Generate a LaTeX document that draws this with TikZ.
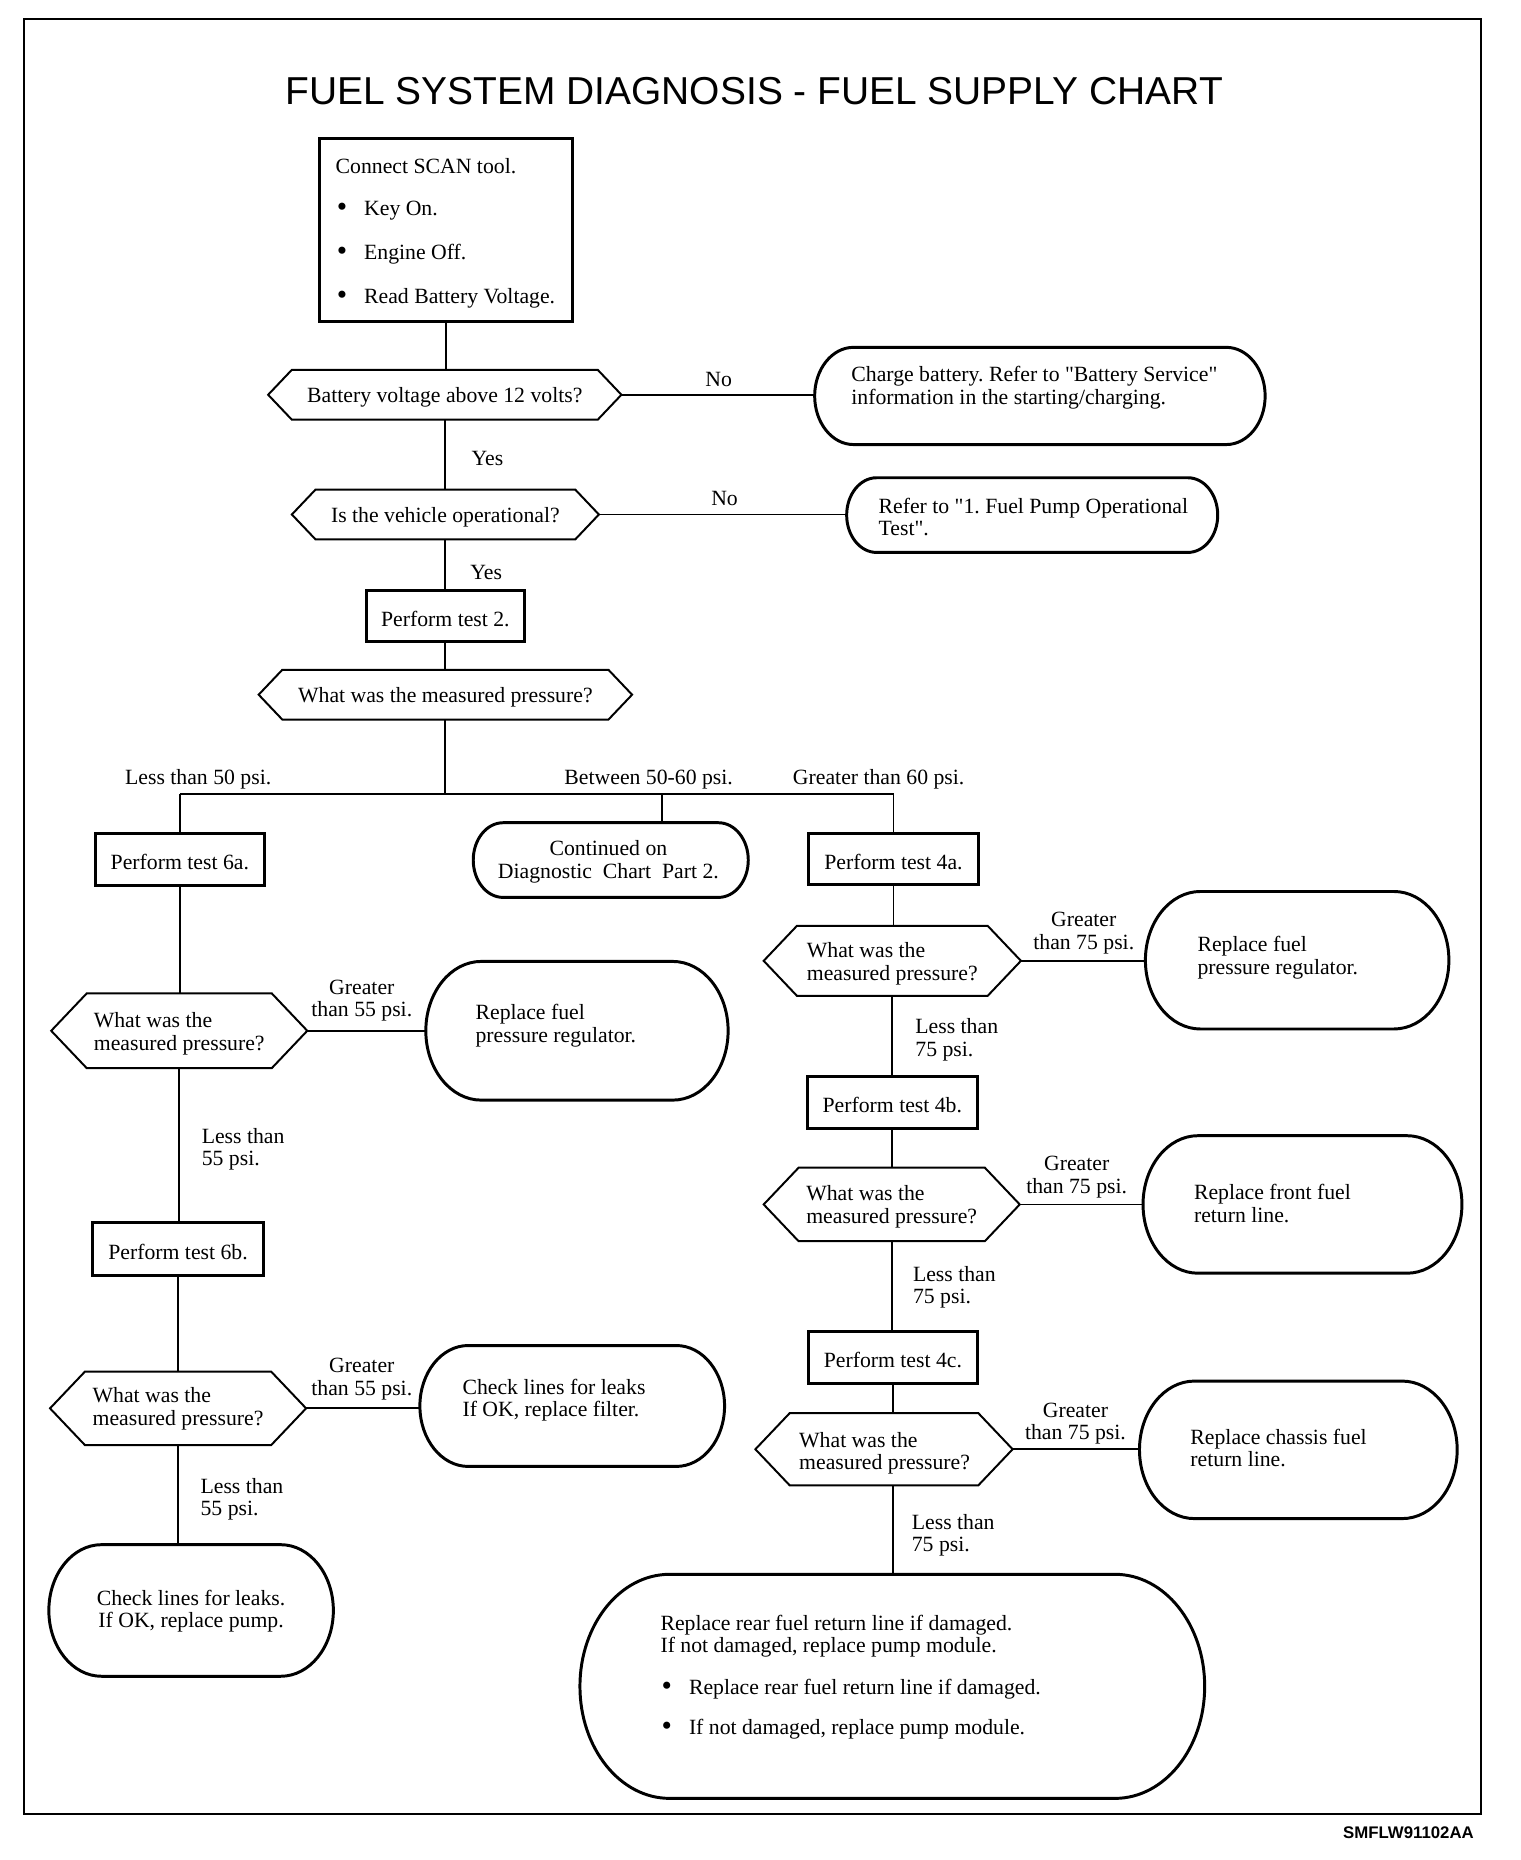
\documentclass[tikz,border=0pt]{standalone}
\usepackage{fontspec}
\setmainfont{Liberation Serif}
\newfontfamily\titlefont{Liberation Sans}
\usetikzlibrary{calc}
\frenchspacing
\newcommand\bul{\hbox to 13.8pt{\raisebox{-0.6pt}{\fontsize{15}{15}\selectfont\textbullet}\hss}}
\newcommand\qq{\textquotedbl}
\newcommand\hexshape[1]{%
  \draw[hexline] let \p1=(#1.north east), \p2=(#1.south west), \n1={0.95*(\y1-\y2)/2} in
   (#1.west) -- (\x2+\n1,\y1) -- (\x1-\n1,\y1) -- (#1.east) -- (\x1-\n1,\y2) -- (\x2+\n1,\y2) -- cycle;}
\newcommand\stadshape[1]{%
  \draw[stadline] let \p1=(#1.north east), \p2=(#1.south west), \n1={(\y1-\y2)/2}, \n2={0.8*(\y1-\y2)/2} in
   (\x2+\n2,\y1) -- (\x1-\n2,\y1) arc[start angle=90,end angle=-90,x radius=\n2*1pt,y radius=\n1*1pt]
   -- (\x2+\n2,\y2) arc[start angle=270,end angle=90,x radius=\n2*1pt,y radius=\n1*1pt] -- cycle;}
\begin{document}
\begin{tikzpicture}[x=0.6pt,y=-0.6pt,font=\fontsize{11}{11.4}\selectfont\frenchspacing,
  every node/.style={inner sep=0pt,outer sep=0pt},
  sz/.style 2 args={minimum width=#1*0.6pt,minimum height=#2*0.6pt},
  rectbox/.style={draw,line width=1.5pt},
  conn/.style={line width=0.9pt},
  hexline/.style={line width=1pt},
  stadline/.style={line width=1.5pt},
  tc/.style={yshift=-1.5pt},
  lt/.style={anchor=west,align=left,yshift=-1.5pt},
  ct/.style={align=center,yshift=-1.5pt}]
\useasboundingbox (-1.2,0) rectangle (1281,1569);
\draw[line width=1.3pt] (19,16) rectangle (1248,1530);
\node[font=\titlefont\fontsize{19.7}{22}\selectfont] (title) at (635,76.5) {FUEL SYSTEM DIAGNOSIS - FUEL SUPPLY CHART};
\node[font=\titlefont\bfseries\fontsize{8.5}{10}\selectfont,anchor=base east] (code) at (1242,1551) {SMFLW91102AA};

% ---------- top part
\node[rectbox,sz={214}{154}] (start) at (375,194) {};
\node[lt] (st0) at (282,138) {Connect SCAN tool.};
\node[lt] (st1) at (283,175) {\bul Key On.};
\node[lt] (st2) at (283,212) {\bul Engine Off.};
\node[lt] (st3) at (283,249) {\bul Read Battery Voltage.};

\node[sz={298}{42}] (h1) at (374,333) {};
\hexshape{h1}
\node[tc] (h1t) at (h1.center) {Battery voltage above 12 volts?};
\node[sz={380}{82}] (crb) at (876,334) {};
\stadshape{crb}
\node[lt] (crbt) at (717,324.5) {Charge battery. Refer to \qq Battery Service\qq\\information in the starting/charging.};

\node[sz={259}{42}] (h2) at (374.5,434) {};
\hexshape{h2}
\node[tc] (h2t) at (h2.center) {Is the vehicle operational?};
\node[sz={313}{63}] (rrb0) at (869.5,434.5) {};
\stadshape{rrb0}
\node[lt] (rrb0t) at (740,433.5) {Refer to \qq 1. Fuel Pump Operational\\Test\qq.};

\node[rectbox,sz={133}{43}] (t2) at (374.5,519.5) {};
\node[tc] (t2t) at (t2.center) {Perform test 2.};
\node[sz={315}{42}] (h3) at (374.5,586) {};
\hexshape{h3}
\node[tc] (h3t) at (h3.center) {What was the measured pressure?};

\draw[conn] (start.south) -- (start.south |- h1.north);
\draw[conn] (h1.east) -- (h1.east -| crb.west);
\draw[conn] (h1.south) -- (h1.south |- h2.north);
\draw[conn] (h2.east) -- (h2.east -| rrb0.west);
\draw[conn] (h2.south) -- (h2.south |- t2.north);
\draw[conn] (t2.south) -- (t2.south |- h3.north);
\node[tc] (no1) at (605,318) {No};
\node[tc] (yes1) at (410,384) {Yes};
\node[tc] (no2) at (610,418) {No};
\node[tc] (yes2) at (409,480) {Yes};

% ---------- branch
\coordinate (jn) at (374.5,670);
\coordinate (jc) at (557,670);
\node[rectbox,sz={143}{44}] (t6a) at (150.5,725) {};
\node[tc] (t6at) at (t6a.center) {Perform test 6a.};
\node[sz={232}{63}] (cont) at (514,725.5) {};
\stadshape{cont}
\node[ct] (contt) at (512,724.5) {Continued on\\Diagnostic\ \ Chart\ \ Part 2.};
\node[rectbox,sz={143}{43}] (t4a) at (752.5,724.5) {};
\node[tc] (t4at) at (t4a.center) {Perform test 4a.};
\draw[conn] (h3.south) -- (jn);
\draw[conn] (t6a.north |- jn) -- (t4a.north |- jn);
\draw[conn] (t6a.north |- jn) -- (t6a.north);
\draw[conn] (jc) -- (jc |- cont.north);
\draw[conn] (t4a.north |- jn) -- (t4a.north);
\node[tc] (lab50) at (166,655) {Less than 50 psi.};
\node[tc] (lab5060) at (546,655) {Between 50-60 psi.};
\node[tc] (lab60) at (740,655) {Greater than 60 psi.};

% ---------- left column
\node[sz={216}{63}] (hl1) at (150,869.5) {};
\hexshape{hl1}
\node[ct,align=left] (hl1t) at (hl1.center) {What was the\\measured pressure?};
\node[sz={255}{117}] (lrb1) at (485.5,869.5) {};
\stadshape{lrb1}
\node[lt] (lrb1t) at (400,862.5) {Replace fuel\\pressure regulator.};
\node[rectbox,sz={144}{45}] (t6b) at (149,1053.5) {};
\node[tc] (t6bt) at (t6b.center) {Perform test 6b.};
\node[sz={216}{62}] (hl2) at (149,1188) {};
\hexshape{hl2}
\node[ct,align=left] (hl2t) at (149,1186) {What was the\\measured pressure?};
\node[sz={257}{102}] (lrb2) at (481.5,1186) {};
\stadshape{lrb2}
\node[lt] (lrb2t) at (389,1178.5) {Check lines for leaks\\If OK, replace filter.};
\node[sz={240}{111}] (lrb3) at (160,1358.5) {};
\stadshape{lrb3}
\node[ct] (lrb3t) at (160,1356.5) {Check lines for leaks.\\If OK, replace pump.};

\draw[conn] (t6a.south) -- (t6a.south |- hl1.north);
\draw[conn] (hl1.east) -- (hl1.east -| lrb1.west);
\draw[conn] (hl1.south) -- (hl1.south |- t6b.north);
\draw[conn] (t6b.south) -- (t6b.south |- hl2.north);
\draw[conn] (hl2.east) -- (hl2.east -| lrb2.west);
\draw[conn] (hl2.south) -- (hl2.south |- lrb3.north);
\node[ct] (gl1) at (304,841.5) {Greater\\than 55 psi.};
\node[lt] (ll1) at (169,967) {Less than\\55 psi.};
\node[ct] (gl2) at (304,1161) {Greater\\than 55 psi.};
\node[lt] (ll2) at (168,1262) {Less than\\55 psi.};

% ---------- right column
\node[sz={217}{59}] (hr1) at (751.5,810.5) {};
\hexshape{hr1}
\node[ct,align=left] (hr1t) at (hr1.center) {What was the\\measured pressure?};
\node[sz={256}{116}] (rrb1) at (1093,810) {};
\stadshape{rrb1}
\node[lt] (rrb1t) at (1009,805.5) {Replace fuel\\pressure regulator.};
\node[rectbox,sz={143}{44}] (t4b) at (751.5,930) {};
\node[tc] (t4bt) at (t4b.center) {Perform test 4b.};
\node[sz={216}{62}] (hr2) at (751,1016) {};
\hexshape{hr2}
\node[ct,align=left] (hr2t) at (751,1015.5) {What was the\\measured pressure?};
\node[sz={269}{116}] (rrb2) at (1097.5,1016) {};
\stadshape{rrb2}
\node[lt] (rrb2t) at (1006,1012.5) {Replace front fuel\\return line.};
\node[rectbox,sz={142}{44}] (t4c) at (752,1145) {};
\node[tc] (t4ct) at (t4c.center) {Perform test 4c.};
\node[sz={217}{61}] (hr3) at (744.5,1222.5) {};
\hexshape{hr3}
\node[ct,align=left] (hr3t) at (745,1223.5) {What was the\\measured pressure?};
\node[sz={268}{116}] (rrb3) at (1094,1223) {};
\stadshape{rrb3}
\node[lt] (rrb3t) at (1003,1219) {Replace chassis fuel\\return line.};
\node[sz={527}{189}] (big) at (751.5,1422.5) {};
\stadshape{big}
\node[lt] (bigt) at (556,1377.5) {Replace rear fuel return line if damaged.\\If not damaged, replace pump module.};
\node[lt] (bigb1) at (557,1422) {\bul Replace rear fuel return line if damaged.};
\node[lt] (bigb2) at (557,1456) {\bul If not damaged, replace pump module.};

\draw[conn] (t4a.south) -- (t4a.south |- hr1.north);
\draw[conn] (hr1.east) -- (hr1.east -| rrb1.west);
\draw[conn] (hr1.south) -- (hr1.south |- t4b.north);
\draw[conn] (t4b.south) -- (t4b.south |- hr2.north);
\draw[conn] (hr2.east) -- (hr2.east -| rrb2.west);
\draw[conn] (hr2.south) -- (hr2.south |- t4c.north);
\draw[conn] (t4c.south) -- (t4c.south |- hr3.north);
\draw[conn] (hr3.east) -- (hr3.east -| rrb3.west);
\draw[conn] (t4c.south |- hr3.south) -- (t4c.south |- big.north);
\node[ct] (gr1) at (913,784.5) {Greater\\than 75 psi.};
\node[lt] (lr1) at (771,874.5) {Less than\\75 psi.};
\node[ct] (gr2) at (907,990.5) {Greater\\than 75 psi.};
\node[lt] (lr2) at (769,1083.5) {Less than\\75 psi.};
\node[ct] (gr3) at (906,1198.5) {Greater\\than 75 psi.};
\node[lt] (lr3) at (768,1292.5) {Less than\\75 psi.};
\end{tikzpicture}
\end{document}
